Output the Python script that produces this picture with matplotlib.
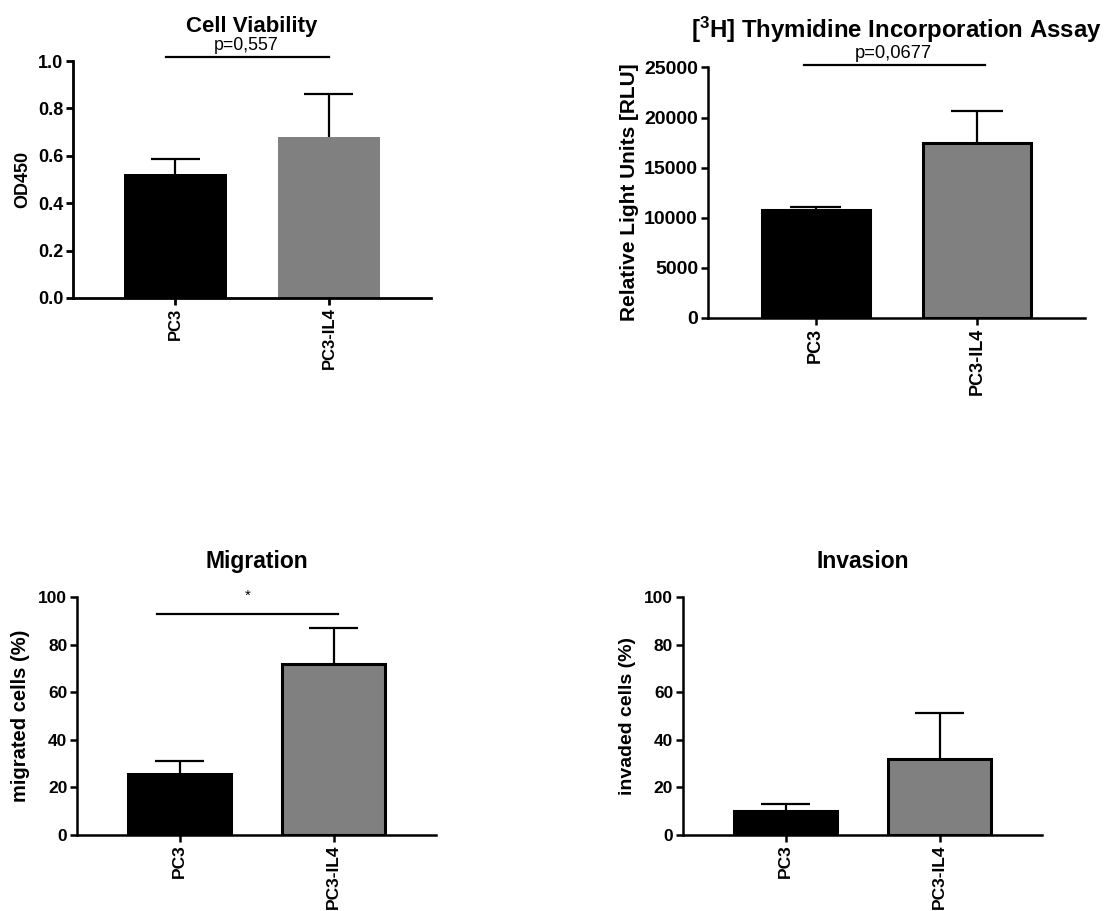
import matplotlib
matplotlib.use("Agg")
import matplotlib.pyplot as plt

plt.rcParams['font.family'] = ['Liberation Sans', 'DejaVu Sans']
plt.rcParams['font.weight'] = 'bold'
plt.rcParams['mathtext.fontset'] = 'custom'
plt.rcParams['mathtext.rm'] = 'Liberation Sans:bold'
plt.rcParams['mathtext.default'] = 'rm'

groups = ['PC3', 'PC3-IL4']
bar_colors = ['#000000', '#808080']

viab_mean = [0.523, 0.681]
viab_sem = [0.062, 0.178]

thym_mean = [10760, 17460]
thym_sem = [270, 3190]

migr_mean = [25.5, 71.7]
migr_sem = [5.6, 15.1]

inv_mean = [10.1, 31.8]
inv_sem = [2.9, 19.5]

fig = plt.figure(figsize=(11.06, 9.11), dpi=100)

ax1 = fig.add_axes([0.066, 0.673, 0.324, 0.260])
ax2 = fig.add_axes([0.640, 0.651, 0.341, 0.275])
ax3 = fig.add_axes([0.0696, 0.0834, 0.325, 0.2613])
ax4 = fig.add_axes([0.6175, 0.0834, 0.325, 0.2613])


def bar_panel(ax, mean, sem, title, ylabel, ylim, yticks, ytl, gray_edge=True,
              lw=1.8, tsize=16.5, lsize=14.5, ksize=12.5, xsize=12.5, lpad=6):
    x = [0, 1]
    edges = ['black', 'black' if gray_edge else '#808080']
    ax.bar(x, mean, width=0.667, color=bar_colors, edgecolor=edges,
           linewidth=2.2 if gray_edge else 0, zorder=2)
    tops = [m + s for m, s in zip(mean, sem)]
    ax.vlines(x, mean, tops, color='black', lw=1.6, zorder=3)
    ax.hlines(tops, [v - 0.16 for v in x], [v + 0.16 for v in x],
              color='black', lw=1.6, zorder=3)
    ax.set_xlim(-0.667, 1.667)
    ax.set_ylim(*ylim)
    ax.set_yticks(yticks)
    ax.set_yticklabels(ytl, fontsize=ksize, fontweight='bold')
    ax.set_xticks(x)
    ax.set_xticklabels(groups, rotation=90, fontsize=xsize, fontweight='bold')
    ax.set_ylabel(ylabel, fontsize=lsize, fontweight='bold', labelpad=lpad)
    ax.set_title(title, fontsize=tsize, fontweight='bold', pad=21)
    for s in ['top', 'right']:
        ax.spines[s].set_visible(False)
    for s in ['left', 'bottom']:
        ax.spines[s].set_linewidth(lw)
    ax.tick_params(axis='both', width=lw, length=5, direction='out', pad=2)


bar_panel(ax1, viab_mean, viab_sem, 'Cell Viability', 'OD450', (0, 1.0),
          [0, 0.2, 0.4, 0.6, 0.8, 1.0], ['0.0', '0.2', '0.4', '0.6', '0.8', '1.0'],
          gray_edge=False, lw=2.0, tsize=16, lsize=13, ksize=13, xsize=12, lpad=5)
ax1.plot([-0.06, 1.0], [1.017, 1.017], color='black', lw=1.6, clip_on=False)
ax1.text(0.46, 1.03, 'p=0,557', ha='center', va='bottom', fontsize=12.8,
         fontweight='normal', clip_on=False)

bar_panel(ax2, thym_mean, thym_sem, r'[$^{3}$H] Thymidine Incorporation Assay',
          'Relative Light Units [RLU]', (0, 25000),
          [0, 5000, 10000, 15000, 20000, 25000],
          ['0', '5000', '10000', '15000', '20000', '25000'], tsize=17.3, lsize=15,
          ksize=14, xsize=13, lpad=4)
ax2.plot([-0.07, 1.046], [25200, 25200], color='black', lw=1.6, clip_on=False)
ax2.text(0.48, 25500, 'p=0,0677', ha='center', va='bottom', fontsize=13.2,
         fontweight='normal', clip_on=False)

bar_panel(ax3, migr_mean, migr_sem, 'Migration', 'migrated cells (%)', (0, 100),
          [0, 20, 40, 60, 80, 100], ['0', '20', '40', '60', '80', '100'])
ax3.plot([-0.15, 1.03], [92.9, 92.9], color='black', lw=1.6, clip_on=False)
ax3.text(0.44, 97.5, '*', ha='center', va='bottom', fontsize=11,
         fontweight='normal', clip_on=False)

bar_panel(ax4, inv_mean, inv_sem, 'Invasion', 'invaded cells (%)', (0, 100),
          [0, 20, 40, 60, 80, 100], ['0', '20', '40', '60', '80', '100'], lsize=14)

fig.savefig('out.png', dpi=100, facecolor='white')
